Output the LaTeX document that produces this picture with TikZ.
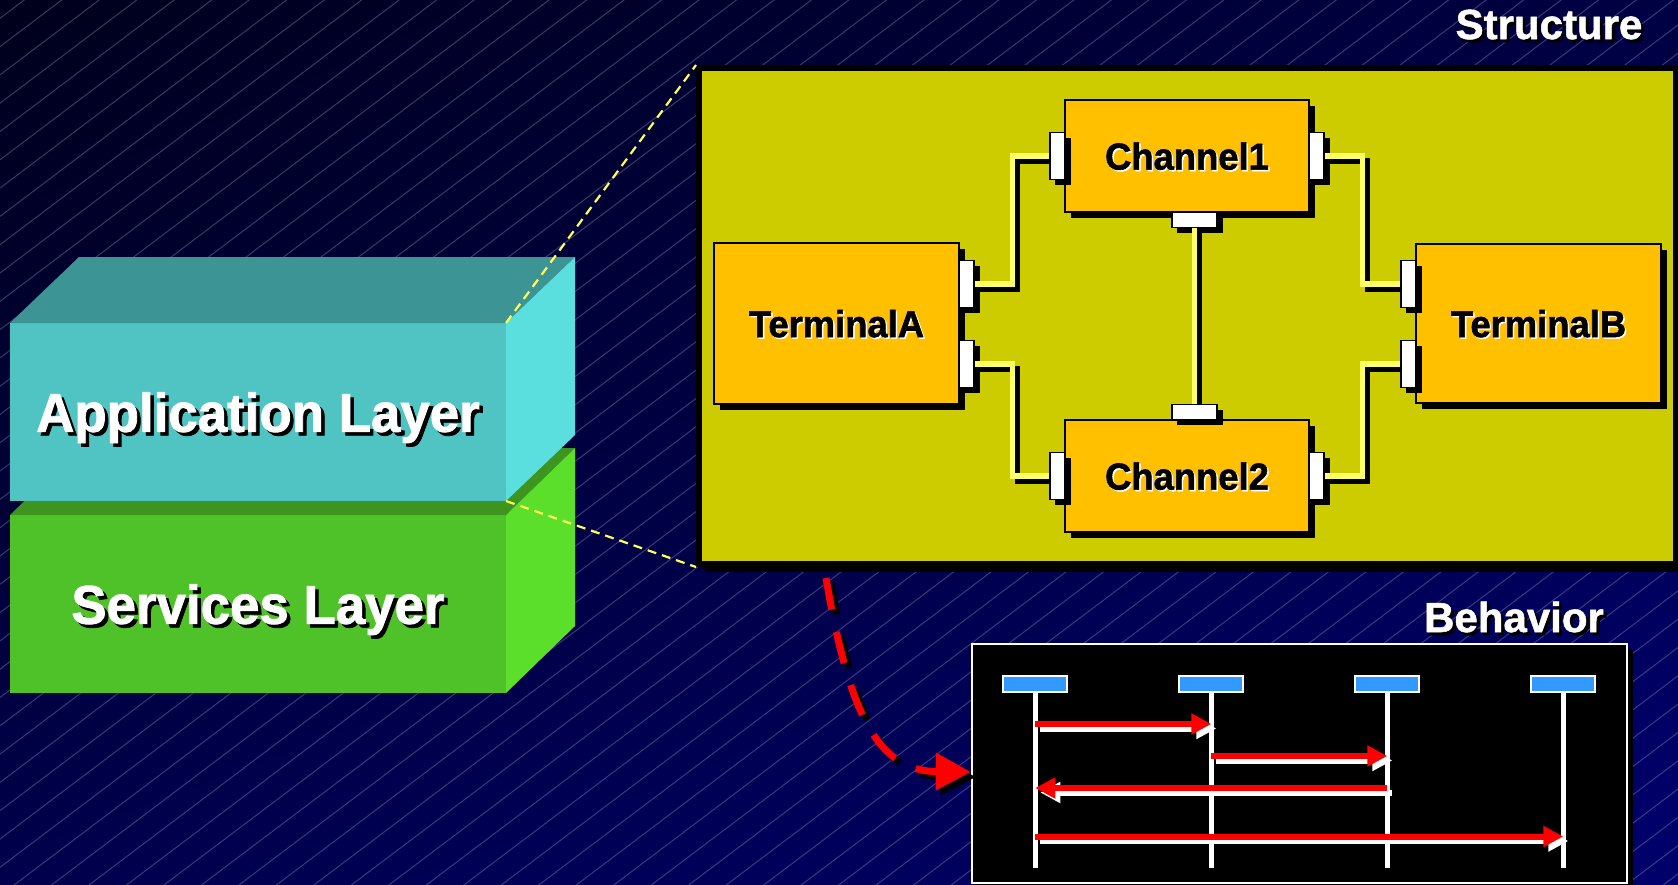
\documentclass[tikz,border=0pt]{standalone}
\usepackage{fontspec}
\setmainfont{Liberation Sans}
\newfontfamily\narrowsans[FakeStretch=0.97,FakeBold=1.5]{Liberation Sans}
\newfontfamily\heavysans[FakeBold=1.2]{Liberation Sans}
\usetikzlibrary{arrows.meta,shadows,shadings}

% palette
\definecolor{bgTL}{HTML}{00001C}
\definecolor{bgTR}{HTML}{000044}
\definecolor{bgBL}{HTML}{00004C}
\definecolor{bgBR}{HTML}{00006C}
\definecolor{hatchC}{HTML}{A0A0D0}
\definecolor{appFrontC}{HTML}{50C3C3}
\definecolor{appTopC}{HTML}{3D9494}
\definecolor{appSideC}{HTML}{5ADEDE}
\definecolor{svcFrontC}{HTML}{4EC228}
\definecolor{svcTopC}{HTML}{3D941F}
\definecolor{svcSideC}{HTML}{5BDF2B}
\definecolor{panelC}{HTML}{CCCC00}
\definecolor{partC}{HTML}{FFC000}
\definecolor{wireC}{HTML}{FFFF66}
\definecolor{zoomC}{HTML}{FFFF55}
\definecolor{lifeC}{HTML}{3399FF}
\definecolor{msgC}{HTML}{FF0000}

% text with an offset copy underneath: {text}{shadow colour}{offset}
\newcommand\shtext[3]{\rlap{\kern#3\raisebox{-#3}{\textcolor{#2}{#1}}}#1}

\tikzset{
  hatchline/.style={draw=hatchC, opacity=0.36, line width=1pt},
  layerface/.style={inner sep=0pt, outer sep=0pt, anchor=north west, text=white,
    text depth=0pt, minimum width=496pt, minimum height=178pt,
    font=\narrowsans\bfseries\fontsize{54.5pt}{60pt}\selectfont},
  zoomline/.style={draw=zoomC, line width=2.2pt, dash pattern=on 9pt off 6pt},
  panelbox/.style={fill=panelC, draw=black, line width=6pt, inner sep=0pt,
    minimum width=977pt, minimum height=496pt,
    drop shadow={shadow xshift=6pt, shadow yshift=-8pt, fill=black, opacity=1}},
  partbox/.style={fill=partC, draw=black, line width=2pt, inner sep=0pt, text=black,
    text depth=0pt, font=\narrowsans\bfseries\fontsize{37.5pt}{42pt}\selectfont,
    drop shadow={shadow xshift=6pt, shadow yshift=-6pt, fill=black, opacity=1}},
  vport/.style={rectangle, inner sep=0pt, outer sep=0pt, minimum width=15pt, minimum height=47pt},
  hport/.style={rectangle, inner sep=0pt, outer sep=0pt, minimum width=45pt, minimum height=15pt},
  portbody/.style={fill=white, draw=black, line width=1.5pt},
  wire/.style={line width=5.4pt},
  title/.style={text=white, inner sep=0pt, anchor=base,
    font=\heavysans\bfseries\fontsize{42pt}{48pt}\selectfont},
  seqpanel/.style={fill=black, draw=white, line width=2.5pt, inner sep=0pt,
    minimum width=655pt, minimum height=239pt,
    drop shadow={shadow xshift=6pt, shadow yshift=-6pt, fill=black, opacity=1}},
  lifehead/.style={fill=lifeC, draw=white, line width=2.2pt, inner sep=0pt,
    minimum width=64pt, minimum height=16pt},
  lifeline/.style={draw=white, line width=5.5pt},
  msg/.style={line width=6pt, -{Triangle[length=20pt,width=20pt]}},
  flow/.style={line width=7pt, dash pattern=on 32pt off 23pt,
    -{Triangle[length=35pt,width=36pt]}},
}

\begin{document}
\begin{tikzpicture}[x=1pt, y=-1pt]
\useasboundingbox (0,0) rectangle (1678,884);

% backdrop with fine diagonal hatching
\shade[upper left=bgTL, upper right=bgTR, lower left=bgBL, lower right=bgBR]
  (0,0) rectangle (1678,884);
\begin{scope}
  \clip (0,0) rectangle (1678,884);
  \foreach \k in {0,...,76}
    \draw[hatchline] (0,18.3+28.3*\k) -- ++(1700,-1283.5);
\end{scope}

% layered blocks
\node[layerface, fill=svcFrontC] (svc) at (10,515) {\shtext{Services Layer}{black}{3.5pt}};
\fill[svcTopC] (svc.north west) -- ++(69,-67) -- ++(496,0) -- (svc.north east) -- cycle;
\fill[svcSideC] (svc.north east) -- ++(69,-67) -- ++(0,178) -- (svc.south east) -- cycle;

\node[layerface, fill=appFrontC] (app) at (10,323) {\shtext{Application Layer}{black}{3.5pt}};
\fill[appTopC] (app.north west) -- ++(69,-66) -- ++(496,0) -- (app.north east) -- cycle;
\fill[appSideC] (app.north east) -- ++(69,-66) -- ++(0,178) -- (app.south east) -- cycle;

% structure panel
\node[panelbox] (panel) at (1187.5,316) {};
\draw[zoomline] (app.north east) -- (panel.north west);
\draw[zoomline] (app.south east) -- (panel.south west);
\node[title] (structTitle) at (1549,39) {\shtext{Structure}{black}{3pt}};

\node[partbox, minimum width=245pt, minimum height=161pt] (termA) at (836.5,323.5) {\shtext{TerminalA}{white}{1.5pt}};
\node[partbox, minimum width=245pt, minimum height=159pt] (termB) at (1538.5,323.5) {\shtext{TerminalB}{white}{1.5pt}};
\node[partbox, minimum width=244pt, minimum height=112pt] (ch1) at (1187,156) {\shtext{Channel1}{white}{1.5pt}};
\node[partbox, minimum width=244pt, minimum height=112pt] (ch2) at (1187,476) {\shtext{Channel2}{white}{1.5pt}};

% ports
\path node[vport] (pA1) at (966.5,284) {}
      node[vport] (pA2) at (966.5,364) {}
      node[vport] (pC1L) at (1057.5,156) {}
      node[vport] (pC1R) at (1316.5,156) {}
      node[hport] (pC1B) at (1194.5,220) {}
      node[hport] (pC2T) at (1194.5,412) {}
      node[vport] (pC2L) at (1057.5,476) {}
      node[vport] (pC2R) at (1316.5,476) {}
      node[vport] (pB1) at (1408.5,284) {}
      node[vport] (pB2) at (1408.5,364) {};

% connectors between ports: black offset pass, port shadows, then yellow pass
\coordinate (jl) at (1012.5,0);
\coordinate (jr) at (1362.5,0);
\begin{scope}[transform canvas={shift={(5pt,-5pt)}}]
  \draw[wire, draw=black] (pA1.east) -- (pA1.east -| jl) -- (jl |- pC1L.west) -- (pC1L.west);
  \draw[wire, draw=black] (pA2.east) -- (pA2.east -| jl) -- (jl |- pC2L.west) -- (pC2L.west);
  \draw[wire, draw=black] (pC1R.east) -- (pC1R.east -| jr) -- (jr |- pB1.west) -- (pB1.west);
  \draw[wire, draw=black] (pC2R.east) -- (pC2R.east -| jr) -- (jr |- pB2.west) -- (pB2.west);
  \draw[wire, draw=black] (pC1B.south) -- (pC2T.north);
\end{scope}
\foreach \p in {pA1,pA2,pC1L,pC1R,pC1B,pC2T,pC2L,pC2R,pB1,pB2}
  \fill[black] ([shift={(5,5)}]\p.north west) rectangle ([shift={(5.75,5.75)}]\p.south east);
\draw[wire, draw=wireC] (pA1.east) -- (pA1.east -| jl) -- (jl |- pC1L.west) -- (pC1L.west);
\draw[wire, draw=wireC] (pA2.east) -- (pA2.east -| jl) -- (jl |- pC2L.west) -- (pC2L.west);
\draw[wire, draw=wireC] (pC1R.east) -- (pC1R.east -| jr) -- (jr |- pB1.west) -- (pB1.west);
\draw[wire, draw=wireC] (pC2R.east) -- (pC2R.east -| jr) -- (jr |- pB2.west) -- (pB2.west);
\draw[wire, draw=wireC] (pC1B.south) -- (pC2T.north);

\foreach \p in {pA1,pA2,pC1L,pC1R,pC1B,pC2T,pC2L,pC2R,pB1,pB2}
  \draw[portbody] (\p.north west) rectangle (\p.south east);

% behaviour panel with sequence chart
\node[seqpanel] (seq) at (1299.5,763.5) {};
\node[title] (behTitle) at (1514,632) {\shtext{Behavior}{black}{3pt}};

\foreach \i/\x in {1/1035.3, 2/1211.3, 3/1387.3, 4/1563.3}
  \node[lifehead] (h\i) at (\x,684) {};
\foreach \i in {1,...,4}
  \draw[lifeline] (h\i.south) -- ++(0,175);

% messages: white offset copy first, red on top
\foreach \mc/\dx/\dy in {white/5pt/-4.5pt, msgC/0pt/0pt} {
  \begin{scope}[transform canvas={shift={(\dx,\dy)}}]
    \draw[msg, draw=\mc] (h1 |- 0,724) -- (h2 |- 0,724);
    \draw[msg, draw=\mc] (h2 |- 0,756) -- (h3 |- 0,756);
    \draw[msg, draw=\mc] (h3 |- 0,788) -- (h1 |- 0,788);
    \draw[msg, draw=\mc] (h1 |- 0,836.5) -- (h4 |- 0,836.5);
  \end{scope}
}

% flow from structure to behaviour
\coordinate (flowStart) at (826,578);
\coordinate (flowEnd) at (seq.west |- 0,772);
\foreach \fc/\dd in {black/5pt, msgC/0pt} {
  \begin{scope}[transform canvas={shift={(\dd,-\dd)}}]
    \draw[flow, draw=\fc] (flowStart) .. controls (850,720) and (880,771) .. (flowEnd);
  \end{scope}
}
\end{tikzpicture}
\end{document}
